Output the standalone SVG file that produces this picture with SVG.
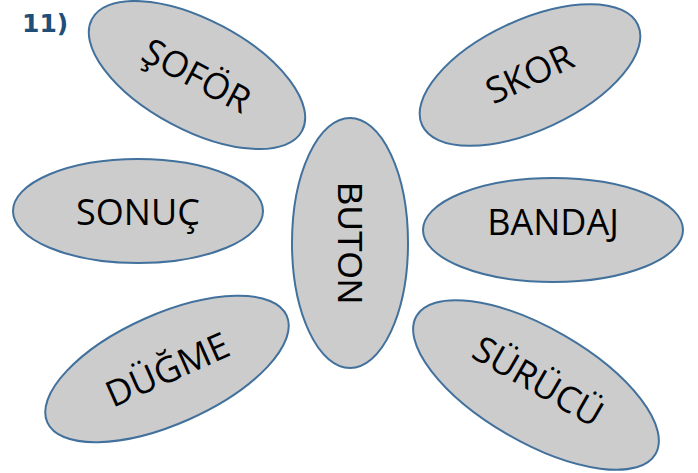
<svg xmlns="http://www.w3.org/2000/svg" width="698" height="473" viewBox="0 0 698 473">
<style>
.e{fill:#cccccc;stroke:#41719c;stroke-width:2}
.t{font-family:"Open Sans","Noto Sans",sans-serif;font-size:36px;fill:#000;text-anchor:middle;dominant-baseline:central}
.b{font-family:"Liberation Sans",Arial,sans-serif;font-size:35px;fill:#000;text-anchor:middle;dominant-baseline:central}
.n{font-family:"DejaVu Sans",Verdana,sans-serif;font-weight:bold;font-size:25px;fill:#1f4e79}
</style>
<rect width="698" height="473" fill="#fff"/>
<text class="n" x="22" y="32">11)</text>
<g id="sofor" transform="translate(197,75) rotate(28)">
<ellipse class="e" rx="119" ry="55"/>
<text class="t" x="0" y="0">ŞOFÖR</text>
</g>
<g id="skor" transform="translate(530,75) rotate(-25)">
<ellipse class="e" rx="119" ry="55"/>
<text class="t" x="0" y="-2">SKOR</text>
</g>
<g id="sonuc" transform="translate(138,211)">
<ellipse class="e" rx="125" ry="52"/>
<text class="t" x="0" y="0">SONUÇ</text>
</g>
<g id="buton" transform="translate(350,243)">
<ellipse class="e" rx="58" ry="125"/>
<text class="b" x="0" y="0" transform="rotate(90)">BUTON</text>
</g>
<g id="bandaj" transform="translate(553,230)">
<ellipse class="e" rx="130" ry="52"/>
<text class="t" x="0" y="-9">BANDAJ</text>
</g>
<g id="dugme" transform="translate(167,369) rotate(-24)">
<ellipse class="e" rx="131" ry="55"/>
<text class="t" x="0" y="0">DÜĞME</text>
</g>
<g id="surucu" transform="translate(536,385) rotate(30)">
<ellipse class="e" rx="138" ry="57"/>
<text class="t" x="0" y="-5">SÜRÜCÜ</text>
</g>
<g id="connectors"></g>
</svg>
